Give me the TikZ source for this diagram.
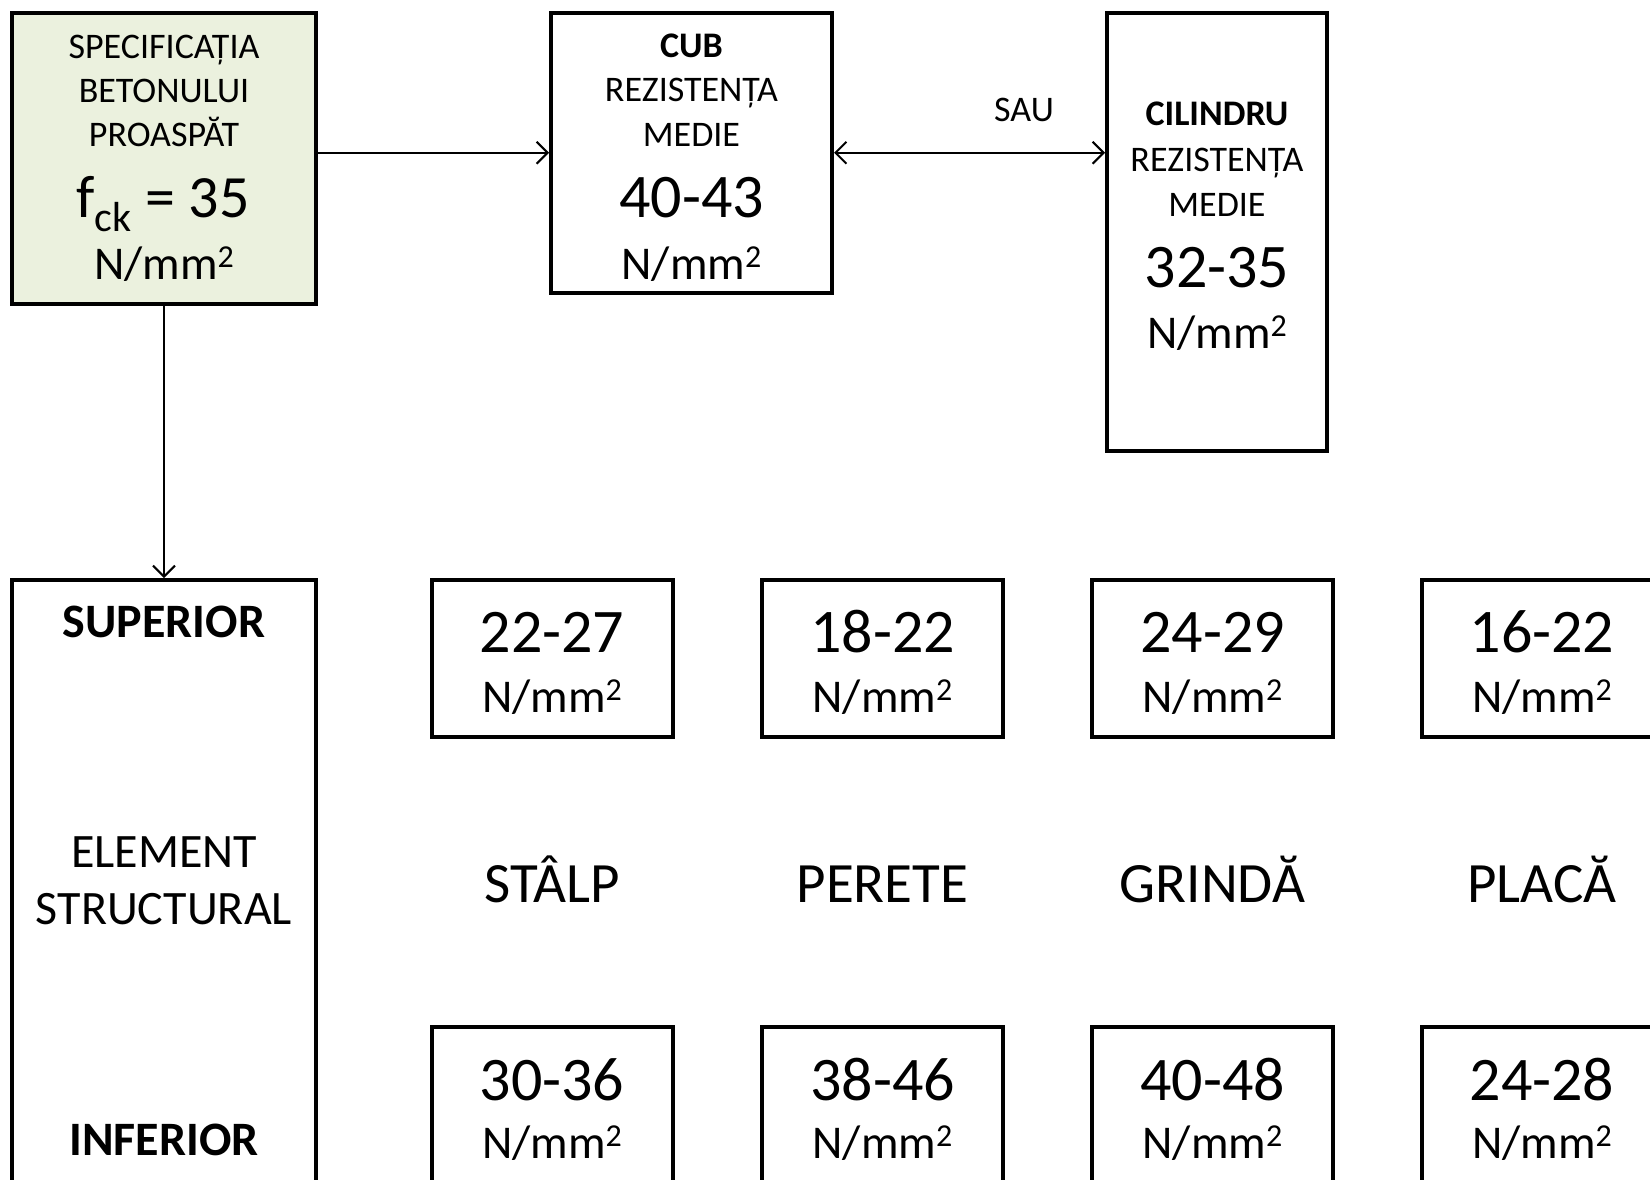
\documentclass[tikz,border=0pt]{standalone}
\usepackage{fontspec}
\setmainfont{Carlito}
\usetikzlibrary{arrows.meta}
\definecolor{specfill}{HTML}{EBF1DE}
\newcommand{\szsmall}{\fontsize{36}{43}\selectfont}
\newcommand{\szmid}{\fontsize{47}{56}\selectfont}
\newcommand{\szbig}{\fontsize{62}{74}\selectfont}
\newcommand{\szel}{\fontsize{48}{58}\selectfont}
\newcommand{\szlab}{\fontsize{57}{68}\selectfont}
\newcommand{\nmm}{N/mm\raisebox{0.25em}{\scalebox{0.68}{2}}}
\tikzset{
  box/.style={draw=black, line width=4pt, rectangle, inner sep=0pt},
  conn/.style={line width=2pt, -{Straight Barb[length=11pt,width=22pt,line width=2pt]}},
  conn2/.style={line width=2pt, {Straight Barb[length=11pt,width=22pt,line width=2pt]}-{Straight Barb[length=11pt,width=22pt,line width=2pt]}},
  txt/.style={anchor=base, inner sep=0pt}
}
\begin{document}
\begin{tikzpicture}[x=1pt,y=-1pt]
\useasboundingbox (0,0) rectangle (1650,1180);
\clip (0,0) rectangle (1650,1180);
% main boxes
\node[box, fill=specfill, minimum width=304pt, minimum height=291pt] (spec) at (164,158.5) {};
\node[box, minimum width=281pt, minimum height=279.5pt] (cub) at (691.5,152.75) {};
\node[box, minimum width=220pt, minimum height=438pt] (cyl) at (1217,232) {};
\node[box, minimum width=304pt, minimum height=620pt] (elem) at (164,890) {};
% spec texts
\node[txt] (s1) at (164,59) {\szsmall SPECIFICAȚIA};
\node[txt] (s2) at (164,103) {\szsmall BETONULUI};
\node[txt] (s3) at (164,147) {\szsmall PROASPĂT};
\node[txt] (s4) at (163,217) {\fontsize{60}{72}\selectfont f\raisebox{-14pt}{\fontsize{42}{50}\selectfont ck} = 35};
\node[txt] (s5) at (164,279) {\szmid\nmm};
% cub texts
\node[txt] (c1) at (691.5,58) {\szsmall\bfseries CUB};
\node[txt] (c2) at (691.5,102) {\szsmall REZISTENȚA};
\node[txt] (c3) at (691.5,147) {\szsmall MEDIE};
\node[txt] (c4) at (691.5,217) {\szbig 40-43};
\node[txt] (c5) at (691.5,279) {\szmid\nmm};
% cylinder texts
\node[txt] (y1) at (1217,126) {\szsmall\bfseries CILINDRU};
\node[txt] (y2) at (1217,171.5) {\szsmall REZISTENȚA};
\node[txt] (y3) at (1217,216) {\szsmall MEDIE};
\node[txt] (y4) at (1217,287) {\szbig 32-35};
\node[txt] (y5) at (1217,348) {\szmid\nmm};
% SAU
\node[txt] (sau) at (1024,122) {\szsmall SAU};
% element texts
\node[txt] (e1) at (164,637) {\szel\bfseries SUPERIOR};
\node[txt] (e2) at (164,867) {\szel ELEMENT};
\node[txt] (e3) at (164,924) {\szel STRUCTURAL};
\node[txt] (e4) at (164,1155) {\szel\bfseries INFERIOR};
% columns
\foreach \i/\x/\tv/\bv/\lab in {1/552/22-27/30-36/STÂLP, 2/882.5/18-22/38-46/PERETE, 3/1212.5/24-29/40-48/GRINDĂ, 4/1542/16-22/24-28/PLACĂ}{
  \node[box, minimum width=241pt, minimum height=157pt] (top\i) at (\x,658.5) {};
  \node[txt] (topv\i) at (\x,652) {\szbig \tv};
  \node[txt] (topu\i) at (\x,712) {\szmid\nmm};
  \node[txt] (lab\i) at (\x,902) {\szlab \lab};
  \node[box, minimum width=241pt, minimum height=157pt] (bot\i) at (\x,1105.5) {};
  \node[txt] (botv\i) at (\x,1100) {\szbig \bv};
  \node[txt] (botu\i) at (\x,1158) {\szmid\nmm};
}
% connectors
\draw[conn] (spec.east |- cub.west) -- (cub.west);
\draw[conn2] (cub.east) -- (cyl.west |- cub.east);
\draw[conn] (spec.south) -- (elem.north);
\end{tikzpicture}
\end{document}
